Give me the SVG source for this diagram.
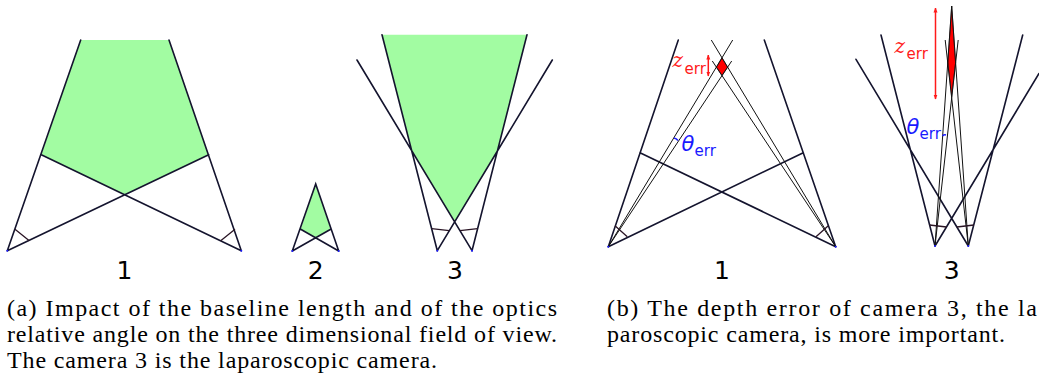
<svg xmlns="http://www.w3.org/2000/svg" width="1039" height="382" viewBox="0 0 1039 382">
<style>
.fov{fill:#a2fca2;stroke:none}
.ln{stroke:#14142e;stroke-width:1.6;fill:none;stroke-linecap:round}
.thin{stroke:#111;stroke-width:1;fill:none}
.mk{stroke:#2a1525;stroke-width:1.3;fill:none}
.cam{fill:#1a1aff}
.num{font-family:"DejaVu Sans",sans-serif;font-size:25px;fill:#000;text-anchor:middle}
.cap{font-family:"Liberation Serif",serif;font-size:24px;fill:#000}
.mz{font-family:"DejaVu Serif",serif;font-style:italic;font-size:20px}
.mt{font-family:"DejaVu Sans",sans-serif;font-style:oblique;font-size:21px}
.sub{font-family:"DejaVu Sans",sans-serif;font-size:15px}
.red{fill:#ff1a1a}
.blue{fill:#1a1aff}
.arr{stroke:#ff1a1a;stroke-width:1.5;fill:none}
</style>
<defs>
<marker id="ah" viewBox="0 0 10 10" refX="9" refY="5" markerWidth="5" markerHeight="5" orient="auto-start-reverse" markerUnits="userSpaceOnUse">
<path d="M0,1 L10,5 L0,9 Z" fill="#ff1a1a"/>
</marker>
</defs>

<g id="panel-a1">
<polygon class="fov" points="80.7,40 169,40 208.7,154.7 125,194.8 41.3,154.7"/>
<path class="ln" d="M7.3,250.7 L80.7,40 M241.3,250.7 L169,40 M41.3,154.7 L241.3,250.7 M208.7,154.7 L7.3,250.7"/>
<path class="mk" d="M15,229.3 L29.3,240.7 M235,229.3 L220.7,240.7"/>
<circle class="cam" cx="7.3" cy="250.7" r="1"/><circle class="cam" cx="241.3" cy="250.7" r="1"/>
<text class="num" x="124.5" y="279">1</text>
</g>

<g id="panel-a2">
<polygon class="fov" points="315.7,184 330.7,229.3 315.7,237.8 300.7,229.3"/>
<path class="ln" d="M292.3,251 L315.7,184 L338.7,251 M292.3,251 L330.7,229.3 M338.7,251 L300.7,229.3"/>
<circle class="cam" cx="292.3" cy="251" r="1"/><circle class="cam" cx="338.7" cy="251" r="1"/>
<text class="num" x="315.7" y="279">2</text>
</g>

<g id="panel-a3">
<polygon class="fov" points="382,34.7 527,34.7 497,151.7 454.7,221.7 412.3,151.7"/>
<path class="ln" d="M437.3,250.7 L382,34.7 M472,250.7 L527,34.7 M437.3,250.7 L552.3,60 M472,250.7 L357,60"/>
<path class="mk" d="M431.7,228.7 L449.3,230.7 M460,230.7 L477.6,228.7"/>
<circle class="cam" cx="437.3" cy="250.7" r="1"/><circle class="cam" cx="472" cy="250.7" r="1"/>
<text class="num" x="455" y="279">3</text>
</g>

<g id="panel-b1">
<polygon points="722,57.8 727.6,67.2 722,75.6 716.4,67.2" fill="#ff0000" stroke="#111" stroke-width="0.6"/>
<path class="ln" d="M608.3,246.7 L678.3,40 M835.7,246.7 L764.3,40 M640,152.7 L835.7,246.7 M803.3,152.7 L608.3,246.7"/>
<path class="thin" d="M608.3,246.7 L732.7,40 M608.3,246.7 L731.7,61 M835.7,246.7 L711.3,40 M835.7,246.7 L712.3,61"/>
<path class="mk" d="M615,225.7 L627.3,236.7 M828.3,225.7 L816,236.7"/>
<circle class="cam" cx="608.3" cy="246.7" r="1"/><circle class="cam" cx="835.7" cy="246.7" r="1"/>
<line class="arr" x1="708.3" y1="55" x2="708.3" y2="76" marker-start="url(#ah)" marker-end="url(#ah)"/>
<text class="mz red" x="672.5" y="67">z</text><text class="sub red" x="684.5" y="73.5">err</text>
<path d="M674,138 Q676.5,138.3 678,140.5" stroke="#1a1aff" stroke-width="1.5" fill="none"/>
<text class="mt blue" x="681.5" y="150.5">θ</text><text class="sub blue" x="694.5" y="156">err</text>
<text class="num" x="722" y="279">1</text>
</g>

<g id="panel-b3">
<polygon points="951.7,6 955.6,62.6 951.7,96.7 947.8,62.6" fill="#ff0000" stroke="#111" stroke-width="0.6"/>
<path class="ln" d="M935,246 L881,35 M968.3,246 L1022.7,35 M935,246 L1039,73.5 M968.3,246 L856,59.3"/>
<path class="thin" d="M935,246 L951.7,6 M968.3,246 L951.7,6 M935,246 L958.2,40 M968.3,246 L945.2,40"/>
<path class="mk" d="M929.5,225 L946.5,227 M956.9,227 L974,225"/>
<circle class="cam" cx="935" cy="246" r="1"/><circle class="cam" cx="968.3" cy="246" r="1"/>
<line class="arr" x1="935.5" y1="8" x2="935.5" y2="99" marker-start="url(#ah)" marker-end="url(#ah)"/>
<text class="mz red" x="894.5" y="53">z</text><text class="sub red" x="906.5" y="59">err</text>
<path d="M942.5,136 Q944,134.3 946,135" stroke="#1a1aff" stroke-width="1.5" fill="none"/>
<text class="mt blue" x="906.5" y="133.5">θ</text><text class="sub blue" x="919.5" y="139">err</text>
<text class="num" x="951.7" y="279">3</text>
</g>

<g id="captions">
<text class="cap" x="7" y="316" textLength="550" lengthAdjust="spacing">(a) Impact of the baseline length and of the optics</text>
<text class="cap" x="7" y="342" textLength="550" lengthAdjust="spacing">relative angle on the three dimensional field of view.</text>
<text class="cap" x="7" y="368" textLength="430" lengthAdjust="spacing">The camera 3 is the laparoscopic camera.</text>
<text class="cap" x="607" y="316" textLength="430" lengthAdjust="spacing">(b) The depth error of camera 3, the la</text>
<text class="cap" x="607" y="342" textLength="398" lengthAdjust="spacing">paroscopic camera, is more important.</text>
</g>
</svg>
